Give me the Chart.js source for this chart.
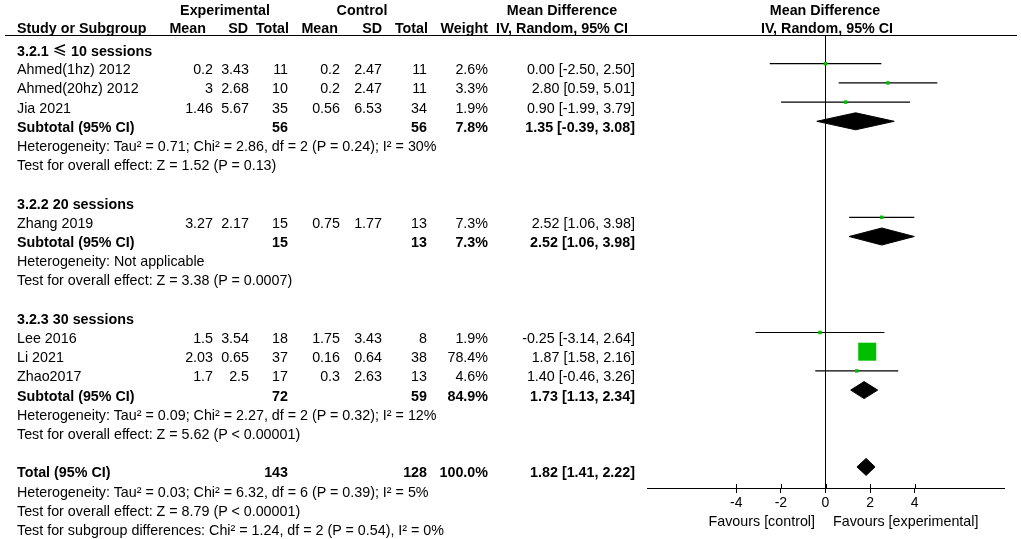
<!DOCTYPE html>
<html>
<head>
<meta charset="utf-8">
<script src="https://cdn.jsdelivr.net/npm/chart.js@4"></script>
<style>
    html, body { margin: 0; padding: 0; background: #fff; }
    #page { position: relative; width: 1021px; height: 539px; overflow: hidden;
            font-family: "Liberation Sans", Arial, sans-serif; font-size: 14.3px; color: #000; }
    #plot { position: absolute; left: 0; top: 0; }
    .t { position: absolute; white-space: nowrap; line-height: 16px; }
    .b { font-weight: bold; }
    .cjk { font-family: "Noto Sans CJK SC", sans-serif; }
    .rule { position: absolute; left: 5px; width: 1012px; top: 35px; height: 0; border-top: 1px solid #000; }
</style>
</head>
<body>
<div id="page">
    <canvas id="plot" width="1021" height="539"></canvas>
    <div class="rule"></div>
</div>
<script>
// Studies
const studies = ["Ahmed(1hz) 2012", "Ahmed(20hz) 2012", "Jia 2021", "Zhang 2019", "Lee 2016", "Li 2021", "Zhao2017"];
const studyGroup = [0, 0, 0, 1, 2, 2, 2];
const expMean = [0.2, 3, 1.46, 3.27, 1.5, 2.03, 1.7];
const expSD = [3.43, 2.68, 5.67, 2.17, 3.54, 0.65, 2.5];
const expN = [11, 10, 35, 15, 18, 37, 17];
const ctlMean = [0.2, 0.2, 0.56, 0.75, 1.75, 0.16, 0.3];
const ctlSD = [2.47, 2.47, 6.53, 1.77, 3.43, 0.64, 2.63];
const ctlN = [11, 11, 34, 13, 8, 38, 13];
const weight = [2.6, 3.3, 1.9, 7.3, 1.9, 78.4, 4.6];
const md = [0.00, 2.80, 0.90, 2.52, -0.25, 1.87, 1.40];
const mdLo = [-2.50, 0.59, -1.99, 1.06, -3.14, 1.58, -0.46];
const mdHi = [2.50, 5.01, 3.79, 3.98, 2.64, 2.16, 3.26];

// Subgroups
const groupNames = ["3.2.1 ≤ 10 sessions", "3.2.2 20 sessions", "3.2.3 30 sessions"];
const subExpN = [56, 15, 72];
const subCtlN = [56, 13, 59];
const subWeight = [7.8, 7.3, 84.9];
const subMd = [1.35, 2.52, 1.73];
const subLo = [-0.39, 1.06, 1.13];
const subHi = [3.08, 3.98, 2.34];
const subHet = [
    "Heterogeneity: Tau² = 0.71; Chi² = 2.86, df = 2 (P = 0.24); I² = 30%",
    "Heterogeneity: Not applicable",
    "Heterogeneity: Tau² = 0.09; Chi² = 2.27, df = 2 (P = 0.32); I² = 12%"
];
const subTest = [
    "Test for overall effect: Z = 1.52 (P = 0.13)",
    "Test for overall effect: Z = 3.38 (P = 0.0007)",
    "Test for overall effect: Z = 5.62 (P < 0.00001)"
];

// Overall
const totalExpN = 143;
const totalCtlN = 128;
const totalWeight = 100.0;
const totalMd = 1.82;
const totalLo = 1.41;
const totalHi = 2.22;
const totalNotes = [
    "Heterogeneity: Tau² = 0.03; Chi² = 6.32, df = 6 (P = 0.39); I² = 5%",
    "Test for overall effect: Z = 8.79 (P < 0.00001)",
    "Test for subgroup differences: Chi² = 1.24, df = 2 (P = 0.54), I² = 0%"
];

const xTicks = [-4, -2, 0, 2, 4];
const xMin = -8, xMax = 8;

// layout
const rowTop = 44.5, rowH = 19.2, textDrop = 10.5;
const page = document.getElementById("page");

function put(text, x, base, align, bold) {
    const d = document.createElement("div");
    d.className = "t" + (bold ? " b" : "");
    d.style.top = (base - 13) + "px";
    if (align === "right") {
        d.style.right = (1021 - x) + "px";
    } else if (align === "center") {
        d.style.left = (x - 200) + "px";
        d.style.width = "400px";
        d.style.textAlign = "center";
    } else {
        d.style.left = x + "px";
    }
    if (text.indexOf("≤") >= 0) {
        d.innerHTML = text.replace("≤", '<span class="cjk">≤</span>');
    } else {
        d.textContent = text;
    }
    page.appendChild(d);
}

const fmtPct = (w) => w.toFixed(1) + "%";
const fmtCI = (m, lo, hi) => m.toFixed(2) + " [" + lo.toFixed(2) + ", " + hi.toFixed(2) + "]";
const baseOf = (r) => rowTop + textDrop + r * rowH;

// column right edges
const col = { expMean: 213, expSD: 249, expN: 288, ctlMean: 340, ctlSD: 382, ctlN: 427, w: 488, ci: 635 };

// header
put("Experimental", 225, 14.5, "center", true);
put("Control", 362, 14.5, "center", true);
put("Mean Difference", 562, 14.5, "center", true);
put("Mean Difference", 825, 14.5, "center", true);
put("Study or Subgroup", 17, 33, "left", true);
put("Mean", 206, 33, "right", true);
put("SD", 248, 33, "right", true);
put("Total", 289, 33, "right", true);
put("Mean", 338, 33, "right", true);
put("SD", 382, 33, "right", true);
put("Total", 428, 33, "right", true);
put("Weight", 488, 33, "right", true);
put("IV, Random, 95% CI", 562, 33, "center", true);
put("IV, Random, 95% CI", 827, 33, "center", true);

// build rows
const studyRow = [];
const subRow = [];
let r = 0;
groupNames.forEach((g, gi) => {
    put(g, 17, baseOf(r), "left", true);
    r++;
    studies.forEach((s, i) => {
        if (studyGroup[i] !== gi) return;
        studyRow[i] = r;
        const b = baseOf(r);
        put(s, 17, b, "left");
        put(String(expMean[i]), col.expMean, b, "right");
        put(String(expSD[i]), col.expSD, b, "right");
        put(String(expN[i]), col.expN, b, "right");
        put(String(ctlMean[i]), col.ctlMean, b, "right");
        put(String(ctlSD[i]), col.ctlSD, b, "right");
        put(String(ctlN[i]), col.ctlN, b, "right");
        put(fmtPct(weight[i]), col.w, b, "right");
        put(fmtCI(md[i], mdLo[i], mdHi[i]), col.ci, b, "right");
        r++;
    });
    subRow[gi] = r;
    let b = baseOf(r);
    put("Subtotal (95% CI)", 17, b, "left", true);
    put(String(subExpN[gi]), col.expN, b, "right", true);
    put(String(subCtlN[gi]), col.ctlN, b, "right", true);
    put(fmtPct(subWeight[gi]), col.w, b, "right", true);
    put(fmtCI(subMd[gi], subLo[gi], subHi[gi]), col.ci, b, "right", true);
    r++;
    put(subHet[gi], 17, baseOf(r), "left");
    r++;
    put(subTest[gi], 17, baseOf(r), "left");
    r += 2;
});
const totalRow = r;
put("Total (95% CI)", 17, baseOf(r), "left", true);
put(String(totalExpN), col.expN, baseOf(r), "right", true);
put(String(totalCtlN), col.ctlN, baseOf(r), "right", true);
put(fmtPct(totalWeight), col.w, baseOf(r), "right", true);
put(fmtCI(totalMd, totalLo, totalHi), col.ci, baseOf(r), "right", true);
totalNotes.forEach((n, i) => put(n, 17, baseOf(totalRow + 1 + i), "left"));

put("Favours [control]", 815, 526, "right");
put("Favours [experimental]", 833, 526, "left");

// chart
const areaTop = 35, areaBottom = 488, areaLeft = 647, areaRight = 1004;
const diamondHalf = 8.5 / rowH;
const green = "#00bf00";

const datasets = [];

datasets.push({
    label: "studies",
    data: studies.map((s, i) => ({ x: md[i], y: studyRow[i] })),
    pointStyle: "rect",
    pointRadius: weight.map(w => Math.max(3.5, 18 * w / 78.4) / Math.SQRT2),
    pointBackgroundColor: green,
    pointBorderWidth: 0,
    order: 0
});

studies.forEach((s, i) => {
    datasets.push({
        label: s + " CI",
        data: [{ x: mdLo[i], y: studyRow[i] }, { x: mdHi[i], y: studyRow[i] }],
        showLine: true,
        borderColor: "#000",
        borderWidth: 1.2,
        pointRadius: 0,
        order: 2
    });
});

const diamonds = groupNames.map((g, gi) => ({ m: subMd[gi], lo: subLo[gi], hi: subHi[gi], row: subRow[gi] }));
diamonds.push({ m: totalMd, lo: totalLo, hi: totalHi, row: totalRow });
diamonds.forEach((d) => {
    datasets.push({
        type: "line",
        data: [
            { x: d.lo, y: d.row },
            { x: d.m, y: d.row - diamondHalf },
            { x: d.hi, y: d.row },
            { x: d.m, y: d.row + diamondHalf },
            { x: d.lo, y: d.row }
        ],
        borderColor: "#000",
        borderWidth: 1,
        backgroundColor: "#000",
        fill: "shape",
        tension: 0,
        pointRadius: 0,
        order: 1
    });
});

// tick marks cross the axis line: draw the part above it
const tickUp = {
    id: "tickUp",
    afterDraw(chart) {
        const x = chart.scales.x;
        const ctx = chart.ctx;
        ctx.save();
        ctx.strokeStyle = "#000";
        ctx.lineWidth = 1;
        xTicks.forEach((v) => {
            const px = Math.round(x.getPixelForValue(v)) + 0.5;
            ctx.beginPath();
            ctx.moveTo(px, x.top - 4);
            ctx.lineTo(px, x.top);
            ctx.stroke();
        });
        ctx.restore();
    }
};

Chart.defaults.font.family = '"Liberation Sans", Arial, sans-serif';
Chart.defaults.color = "#000";

new Chart(document.getElementById("plot").getContext("2d"), {
    type: "scatter",
    data: { datasets: datasets },
    plugins: [tickUp],
    options: {
        responsive: false,
        animation: false,
        events: [],
        layout: { padding: { left: areaLeft, right: 1021 - areaRight, top: areaTop, bottom: 0 } },
        plugins: { legend: { display: false }, tooltip: { enabled: false } },
        scales: {
            x: {
                type: "linear",
                position: "bottom",
                min: xMin,
                max: xMax,
                afterBuildTicks: (scale) => { scale.ticks = xTicks.map(v => ({ value: v })); },
                afterFit: (scale) => { scale.height = 539 - areaBottom; },
                grid: {
                    color: (ctx) => (ctx.tick && ctx.tick.value === 0 ? "#000" : "rgba(0,0,0,0)"),
                    tickColor: "#000",
                    tickLength: 5,
                    lineWidth: 1
                },
                border: { display: true, color: "#000", width: 1 },
                ticks: { font: { size: 14 }, color: "#000", padding: 2, maxRotation: 0 }
            },
            y: {
                type: "linear",
                display: false,
                reverse: true,
                min: (areaTop - rowTop) / rowH,
                max: (areaBottom - rowTop) / rowH
            }
        }
    }
});
</script>
</body>
</html>
